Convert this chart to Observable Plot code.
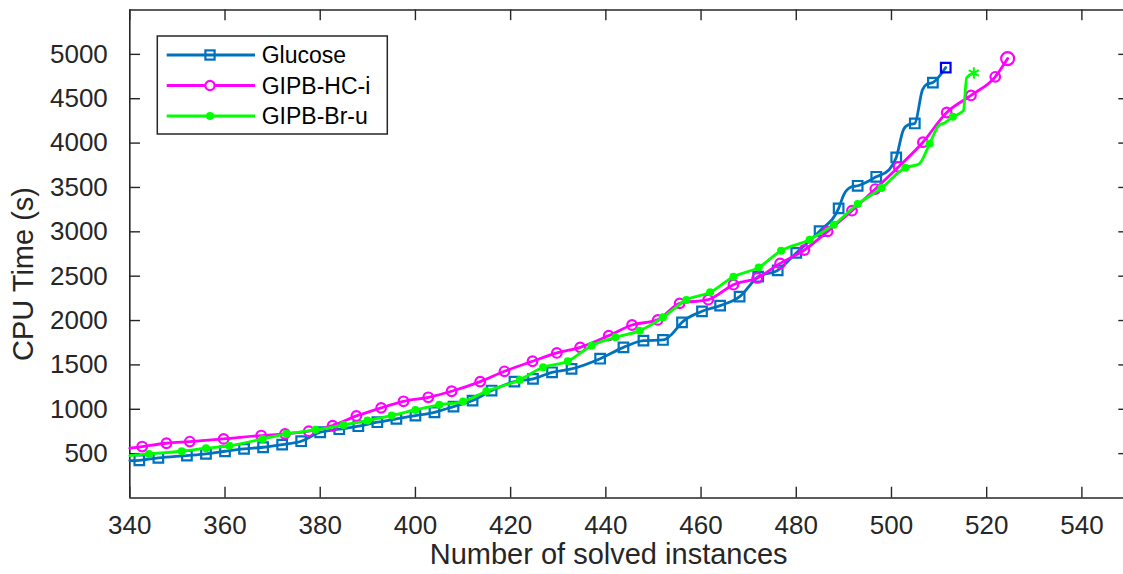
<!DOCTYPE html>
<html><head><meta charset="utf-8">
<script src="https://cdn.jsdelivr.net/npm/d3@7"></script>
<script src="https://cdn.jsdelivr.net/npm/@observablehq/plot@0.6"></script>
<style>html,body{margin:0;padding:0;background:#fff;overflow:hidden}</style>
</head><body><div id="chart"></div>
<script>
// ---- data ----
const seriesNames = ["Glucose", "GIPB-HC-i", "GIPB-Br-u"];
const seriesColors = ["#0072BD", "#FF00FF", "#00FF00"];

const xTicks = [340, 360, 380, 400, 420, 440, 460, 480, 500, 520, 540];
const yTicks = [500, 1000, 1500, 2000, 2500, 3000, 3500, 4000, 4500, 5000];
const xDomain = [340, 550];
const yDomain = [0, 5500];

// Glucose: marker points
const gluX = [342, 346, 352, 356, 360, 364, 368, 372, 376, 380, 384, 388, 392, 396, 400, 404, 408, 412, 416, 420.8, 424.7, 428.7, 432.8, 438.8, 443.7, 447.9, 452, 456, 460.2, 464, 468.1, 472, 476.1, 480, 484.9, 488.9, 492.9, 496.8, 501, 504.9, 508.7, 511.4];
const gluY = [425, 452, 478, 497, 527, 554, 572, 602, 640, 741, 775, 809, 854, 892, 929, 966, 1030, 1098, 1211, 1312, 1342, 1417, 1455, 1570, 1698, 1774, 1781, 1980, 2104, 2168, 2269, 2494, 2566, 2762, 3008, 3264, 3519, 3620, 3838, 4221, 4682, 4851];
// Glucose: extra line vertices between markers
const gluLineX = [340, 453.9, 490, 491.5, 499.5, 502.5, 503.5, 506.5, 507.5];
const gluLineY = [420, 1849, 3420, 3505, 3700, 4150, 4205, 4600, 4665];

// GIPB-HC-i: marker points
const hcX = [342.6, 347.7, 352.6, 359.7, 367.6, 372.6, 377.6, 382.6, 387.6, 392.8, 397.5, 402.7, 407.6, 413.6, 418.7, 424.6, 429.7, 434.6, 440.6, 445.5, 450.9, 455.5, 461.5, 466.8, 471.8, 476.6, 481.7, 486.6, 491.7, 496.6, 501.5, 506.6, 511.6, 516.7, 521.8, 524.4];
const hcY = [580, 617, 636, 666, 704, 723, 753, 816, 925, 1016, 1090, 1135, 1203, 1312, 1428, 1541, 1635, 1698, 1830, 1950, 2007, 2194, 2235, 2404, 2480, 2644, 2795, 3005, 3238, 3482, 3733, 4010, 4345, 4537, 4747, 4953];
const hcLineX = [340];
const hcLineY = [561];

// GIPB-Br-u: marker points
const brX = [344.0, 350.9, 356.0, 360.9, 367.9, 372.9, 379.0, 384.9, 389.9, 395.0, 400.0, 405.0, 410.0, 414.9, 421.9, 426.8, 432.0, 437.0, 442.0, 447.1, 452.0, 456.9, 461.9, 466.8, 472.1, 476.8, 482.8, 487.9, 492.9, 497.9, 502.9, 508.0, 512.9, 517.3];
const brY = [497, 527, 561, 588, 666, 723, 768, 824, 873, 929, 993, 1050, 1087, 1203, 1331, 1473, 1541, 1717, 1811, 1886, 2036, 2232, 2318, 2494, 2599, 2787, 2912, 3080, 3313, 3493, 3722, 3992, 4298, 4790];
const brLineX = [340, 505.8, 509.9, 511.3, 515.1, 515.8];
const brLineY = [478, 3765, 4195, 4232, 4364, 4739];

// ---- build tables ----
const pts = (xs, ys) => xs.map((x, i) => ({x, y: ys[i]}));
const lineOf = (mx, my, lx, ly) => [...pts(mx, my), ...pts(lx, ly)].sort((a, b) => a.x - b.x);
const gluMarks = pts(gluX, gluY), hcMarks = pts(hcX, hcY), brMarks = pts(brX, brY);
const gluLine = lineOf(gluX, gluY, gluLineX, gluLineY);
const hcLine = lineOf(hcX, hcY, hcLineX, hcLineY);
const brLine = lineOf(brX, brY, brLineX, brLineY);

const axisColor = "#262626";
const font = "'Liberation Sans', Arial, Helvetica, sans-serif";
const W = 1123, H = 574, mL = 129.3, mT = 9.5, mB = 76.5;
const frameH = H - mT - mB, frameW = W - mL;
const tickLen = 10.7;
const lw = 2.8;

function legendMark() {
  const g = d3.create("svg:g").attr("font-family", font);
  g.append("rect").attr("x", 157.3).attr("y", 36).attr("width", 230).attr("height", 98)
    .attr("fill", "white").attr("stroke", axisColor).attr("stroke-width", 1.5);
  const rows = [55, 85.5, 116];
  seriesNames.forEach((name, i) => {
    const y = rows[i];
    g.append("line").attr("x1", 166.7).attr("x2", 255).attr("y1", y).attr("y2", y)
      .attr("stroke", seriesColors[i]).attr("stroke-width", lw);
    if (i === 0) {
      g.append("rect").attr("x", 210 - 4.6).attr("y", y - 4.6).attr("width", 9.2).attr("height", 9.2)
        .attr("fill", "none").attr("stroke", seriesColors[i]).attr("stroke-width", 2.2);
    } else if (i === 1) {
      g.append("circle").attr("cx", 210).attr("cy", y).attr("r", 4.6)
        .attr("fill", "white").attr("stroke", seriesColors[i]).attr("stroke-width", 2.2);
    } else {
      g.append("circle").attr("cx", 210).attr("cy", y).attr("r", 4)
        .attr("fill", seriesColors[i]);
    }
    g.append("text").attr("x", 261.7).attr("y", y).attr("dy", "0.36em")
      .attr("text-anchor", "start")
      .attr("font-size", 23).attr("fill", "#000").text(name);
  });
  return g.node();
}

const chart = Plot.plot({
  width: W, height: H,
  marginLeft: mL, marginRight: 0, marginTop: mT, marginBottom: mB,
  style: {fontFamily: font, fontSize: "26px", color: axisColor, background: "white"},
  x: {domain: xDomain, range: [mL, 1129]},
  y: {domain: yDomain},
  marks: [
    // frame
    Plot.ruleX(xDomain, {stroke: axisColor, strokeWidth: 1.6}),
    Plot.ruleY(yDomain, {stroke: axisColor, strokeWidth: 1.6}),
    // inward ticks
    Plot.tickX(xTicks, {x: d => d, insetTop: frameH - tickLen, stroke: axisColor, strokeWidth: 1.4}),
    Plot.tickX(xTicks, {x: d => d, insetBottom: frameH - tickLen, stroke: axisColor, strokeWidth: 1.4}),
    Plot.tickY(yTicks, {y: d => d, insetRight: frameW - tickLen, stroke: axisColor, strokeWidth: 1.4}),
    Plot.tickY(yTicks, {y: d => d, insetLeft: 1118.3 - mL, stroke: axisColor, strokeWidth: 1.4}),
    // tick labels
    Plot.axisX({ticks: xTicks, tickSize: 0, tickPadding: 18, tickFormat: d => String(d), label: null, fontSize: 26, fill: axisColor}),
    Plot.axisY({ticks: yTicks, tickSize: 0, tickPadding: 22, tickFormat: d => String(d), label: null, fontSize: 26, fill: axisColor}),
    // axis titles
    Plot.text(["Number of solved instances"], {frameAnchor: "bottom", dy: 57, dx: -18, fontSize: 29, fill: axisColor, textAnchor: "middle", lineAnchor: "middle"}),
    Plot.text(["CPU Time (s)"], {frameAnchor: "left", rotate: -90, dx: -106, dy: 20, fontSize: 29, fill: axisColor, textAnchor: "middle", lineAnchor: "middle"}),
    // Glucose
    Plot.line(gluLine, {x: "x", y: "y", stroke: seriesColors[0], strokeWidth: lw, curve: "monotone-x"}),
    Plot.dot(gluMarks.slice(0, -1), {x: "x", y: "y", symbol: "square", r: 5.4, stroke: seriesColors[0], strokeWidth: 2.2, fill: "none"}),
    Plot.dot(gluMarks.slice(-1), {x: "x", y: "y", symbol: "square", r: 5.4, stroke: "#0000FF", strokeWidth: 2.2, fill: "none"}),
    // GIPB-HC-i
    Plot.line(hcLine, {x: "x", y: "y", stroke: seriesColors[1], strokeWidth: lw, curve: "monotone-x"}),
    Plot.dot(hcMarks.slice(0, -1), {x: "x", y: "y", r: 4.8, stroke: seriesColors[1], strokeWidth: 2.2, fill: "none"}),
    Plot.dot(hcMarks.slice(-1), {x: "x", y: "y", r: 6.5, stroke: seriesColors[1], strokeWidth: 2.2, fill: "none"}),
    // GIPB-Br-u
    Plot.line(brLine, {x: "x", y: "y", stroke: seriesColors[2], strokeWidth: lw, curve: "monotone-x"}),
    Plot.dot(brMarks.slice(0, -1), {x: "x", y: "y", r: 4, fill: seriesColors[2], stroke: "none"}),
    Plot.dot(brMarks.slice(-1), {x: "x", y: "y", symbol: "asterisk", r: 5.5, stroke: seriesColors[2], strokeWidth: 2}),
    // legend
    legendMark
  ]
});
document.getElementById("chart").appendChild(chart);
</script>
</body></html>
